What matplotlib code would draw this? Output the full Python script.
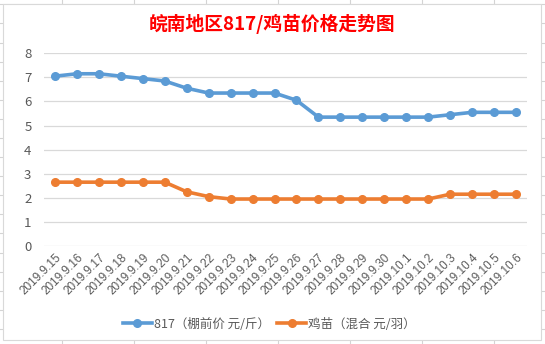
import matplotlib
matplotlib.use("Agg")
import matplotlib.pyplot as plt
from matplotlib.lines import Line2D
from matplotlib.patches import Rectangle

plt.rcParams['font.family'] = ['Noto Sans CJK SC', 'DejaVu Sans']

dates = ['2019.9.15', '2019.9.16', '2019.9.17', '2019.9.18', '2019.9.19', '2019.9.20',
         '2019.9.21', '2019.9.22', '2019.9.23', '2019.9.24', '2019.9.25', '2019.9.26',
         '2019.9.27', '2019.9.28', '2019.9.29', '2019.9.30', '2019.10.1', '2019.10.2',
         '2019.10.3', '2019.10.4', '2019.10.5', '2019.10.6']
price_817 = [7.05, 7.15, 7.15, 7.05, 6.95, 6.85, 6.55, 6.35, 6.35, 6.35, 6.35, 6.05,
             5.35, 5.35, 5.35, 5.35, 5.35, 5.35, 5.45, 5.55, 5.55, 5.55]
price_chick = [2.65, 2.65, 2.65, 2.65, 2.65, 2.65, 2.25, 2.05, 1.95, 1.95, 1.95, 1.95,
               1.95, 1.95, 1.95, 1.95, 1.95, 1.95, 2.15, 2.15, 2.15, 2.15]
labels = ['817（棚前价 元/斤）', '鸡苗（混合 元/羽）']

W, H = 545, 344
fig = plt.figure(figsize=(W / 100, H / 100), dpi=100)

# spreadsheet cells behind the chart
grid_c = '#d4d4d4'
for x in range(62, W, 72):
    fig.add_artist(Line2D([x / W, x / W], [0, 1], color=grid_c, lw=0.8, zorder=-3))
y = 4.3
while y < H:
    fig.add_artist(Line2D([0, 1], [1 - y / H, 1 - y / H], color=grid_c, lw=0.8, zorder=-3))
    y += 19.1

# chart area
fig.add_artist(Rectangle((2.5 / W, 4 / H), (541 - 2.5) / W, (340 - 3.5) / H,
                         facecolor='white', edgecolor='#d9d9d9', lw=0.8, zorder=-2))

ax = fig.add_axes([44 / W, 1 - 246 / H, 483 / W, (246 - 53.3) / H])
ax.set_facecolor('none')
x = range(len(dates))
ax.plot(x, price_817, color='#5B9BD5', lw=2.6, marker='o', ms=5.5, label=labels[0],
        solid_joinstyle='round')
ax.plot(x, price_chick, color='#ED7D31', lw=2.6, marker='o', ms=5.5, label=labels[1],
        solid_joinstyle='round')

ax.set_xlim(-0.5, len(dates) - 0.5)
ax.set_ylim(0, 8)
ax.set_yticks(range(0, 9))
ax.grid(axis='y', color='#d9d9d9', lw=0.9)
ax.set_axisbelow(True)
for s in ax.spines.values():
    s.set_visible(False)
ax.set_xticks(list(x))
ax.set_xticklabels(dates, rotation=45, ha='right', rotation_mode='anchor',
                   fontsize=8.5, color='#595959', family='Liberation Sans')
ax.tick_params(axis='x', length=0, pad=4)
ax.tick_params(axis='y', length=0, pad=9, labelsize=9.5, labelcolor='#595959')

fig.text(0.499, 1 - 24 / H, '皖南地区817/鸡苗价格走势图', color='red', fontsize=13.5,
         fontweight='bold', ha='center', va='center')

fig.legend(loc='center', bbox_to_anchor=(0.494, 1 - 324 / H), ncol=2, frameon=False,
           fontsize=9, labelcolor='#595959', handlelength=2.3, columnspacing=0.6,
           handletextpad=0.15)

fig.savefig('out.png', dpi=100)
